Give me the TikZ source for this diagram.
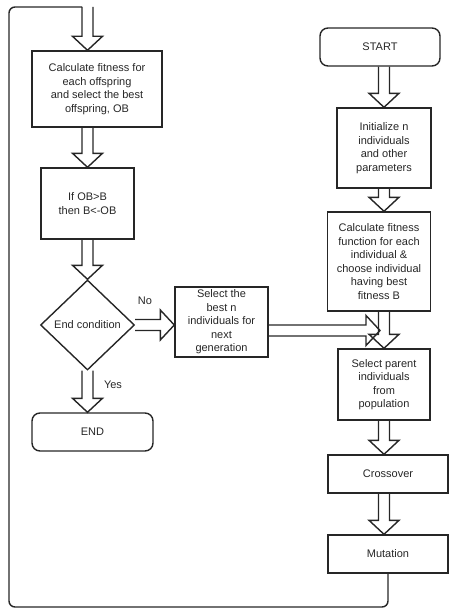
\documentclass[tikz,border=0pt]{standalone}
\usepackage{fontspec}
\setmainfont{Liberation Sans}
\usetikzlibrary{calc,shapes.geometric}

\begin{document}
\begin{tikzpicture}[x=1pt,y=-1pt,
  color=black!85,
  line width=1.4pt,
  font=\fontsize{11}{13.5}\selectfont,
  box/.style={draw, align=center, inner sep=0pt},
  rbox/.style={box, rounded corners=8pt},
  cond/.style={draw, diamond, align=center, inner sep=0pt},
  fat/.style={to path={
    ($(\tikztostart)!5.5pt!90:(\tikztotarget)$) --
    ($($(\tikztotarget)!14pt!(\tikztostart)$)!5.5pt!-90:(\tikztostart)$) --
    ($($(\tikztotarget)!14pt!(\tikztostart)$)!15pt!-90:(\tikztostart)$) --
    (\tikztotarget) --
    ($($(\tikztotarget)!14pt!(\tikztostart)$)!15pt!90:(\tikztostart)$) --
    ($($(\tikztotarget)!14pt!(\tikztostart)$)!5.5pt!90:(\tikztostart)$) --
    ($(\tikztostart)!5.5pt!-90:(\tikztotarget)$)}}
]
\useasboundingbox (0,0) rectangle (449,610);

% Right column: start and main loop steps
\node[rbox, minimum width=120pt, minimum height=38pt] (start) at (380,47) {START};
\node[box, minimum width=94pt, minimum height=80pt] (init) at (384,148)
  {Initialize n\\individuals\\and other\\parameters};
\node[box, minimum width=103pt, minimum height=99pt] (fitR) at (379,261.5)
  {Calculate fitness\\function for each\\individual \&\\choose individual\\having best\\fitness B};
\node[box, minimum width=92pt, minimum height=71pt] (parents) at (384,384.5)
  {Select parent\\individuals\\from\\population};
\node[box, minimum width=120pt, minimum height=38pt] (cross) at (388,474) {Crossover};
\node[box, minimum width=120pt, minimum height=38pt] (mut) at (388,554) {Mutation};

% Left column: offspring evaluation and end test
\node[box, minimum width=130pt, minimum height=76pt] (fitL) at (97,89)
  {Calculate fitness for\\each offspring\\and select the best\\offspring, OB};
\node[box, minimum width=93pt, minimum height=71pt] (ifob) at (87.5,203.5)
  {If OB>B\\then B<-OB};
\node[cond, minimum width=94pt, minimum height=90pt] (endc) at (87.5,325) {End condition};
\node[rbox, minimum width=121pt, minimum height=38pt] (stop) at (92.5,432) {END};
\node[box, minimum width=93pt, minimum height=70pt] (best) at (221.5,322)
  {Select the\\best n\\individuals for\\next\\generation};

% Labels on the branches
\node (no) at (145,301) {No};
\node (yes) at (113,385) {Yes};

% Helper points
\coordinate (top) at (87.5,7);
\coordinate (colR) at (384,0);
\coordinate (merge) at (380,330.5);
\coordinate (corner) at (9,607);

% Block arrows, right column
\draw[fat] (start.south -| colR) to (init.north -| colR);
\draw[fat] (init.south -| colR) to (fitR.north -| colR);
\draw[fat] (fitR.south -| colR) to (parents.north -| colR);
\draw[fat] (parents.south -| colR) to (cross.north -| colR);
\draw[fat] (cross.south -| colR) to (mut.north -| colR);

% Block arrows, left column
\draw[fat] (top) to (fitL.north -| top);
\draw[fat] (fitL.south -| top) to (ifob.north);
\draw[fat] (ifob.south) to (endc.north);
\draw[fat] (endc.south) to (stop.north -| endc.south);
\draw[fat] (endc.east) to (endc.east -| best.west);
\draw[fat] (best.east |- merge) to (merge);

% Loop back from mutation to the top
\draw[rounded corners=6pt] (mut.south) -- (mut.south |- corner) -- (corner)
  -- (corner |- top) -- ($(top)+(-5.5,0)$);

\end{tikzpicture}
\end{document}
